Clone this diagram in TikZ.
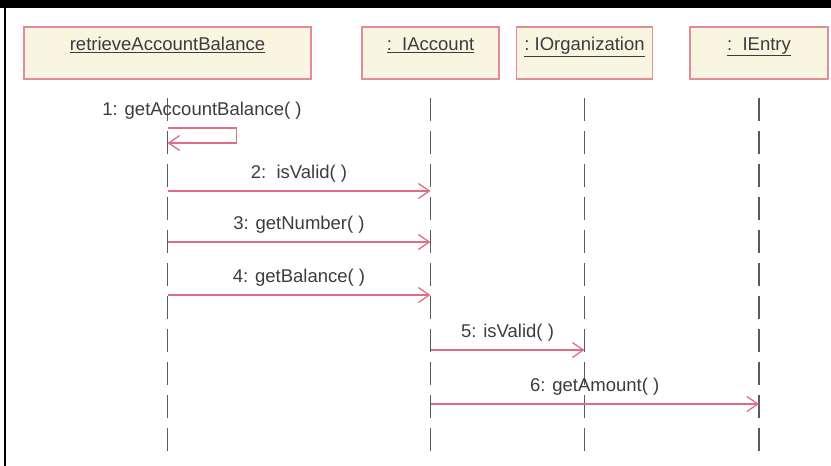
\documentclass[tikz,border=0pt]{standalone}
\usepackage{fontspec}
\setmainfont{Liberation Sans}
\usetikzlibrary{arrows.meta}

\definecolor{boxfill}{RGB}{248,245,224}
\definecolor{boxline}{RGB}{226,140,155}
\definecolor{msgline}{RGB}{222,110,135}
\definecolor{lifegray}{RGB}{90,90,90}
\definecolor{txtgray}{RGB}{60,60,60}

\begin{document}
\begin{tikzpicture}[x=1pt,y=-1pt,
	objbox/.style={draw=boxline,fill=boxfill,line width=1.5pt,minimum height=52pt,text depth=18pt,inner sep=0pt,font=\fontsize{18.5}{22}\selectfont,text=txtgray},
	lifeline/.style={draw=lifegray,line width=1.8pt,dash pattern=on 23pt off 10pt},
	msg/.style={draw=msgline,line width=1.3pt,-{Straight Barb[length=11pt,width=15pt]}},
	msglabel/.style={font=\fontsize{18.5}{22}\selectfont,text=txtgray,inner sep=0pt,above=8pt}]
		\useasboundingbox (0,0) rectangle (831,466);
		
		\fill[black] (0,0) rectangle (831,8);
		\draw[black,line width=2pt] (5,8) -- (5,466);
		
		\node[objbox,minimum width=287pt] (rab) at (167.5,53) {\underline{retrieveAccountBalance}};
		\node[objbox,minimum width=137pt] (acc) at (430.5,53) {\underline{:\ \ IAccount}};
		\node[objbox,minimum width=136pt] (org) at (584.5,53) {\underline{:\ IOrganization}};
		\node[objbox,minimum width=138pt] (ent) at (759,53) {\underline{:\ \ IEntry}};
		
		\coordinate (top) at (0,98);
		\coordinate (bot) at (0,452);
		\coordinate (m1a) at (0,128);
		\coordinate (m1b) at (0,143);
		\coordinate (m2) at (0,191);
		\coordinate (m3) at (0,242);
		\coordinate (m4) at (0,295);
		\coordinate (m5) at (0,350);
		\coordinate (m6) at (0,404);
		
		\draw[lifeline] (rab.south |- top) -- (rab.south |- bot);
		\draw[lifeline] (acc.south |- top) -- (acc.south |- bot);
		\draw[lifeline] (org.south |- top) -- (org.south |- bot);
		\draw[lifeline] (ent.south |- top) -- (ent.south |- bot);
		
		\draw[msg] (rab.south |- m1a) -- node[msglabel]{1: getAccountBalance( )} ++(69,0) -- ++(0,15) -- (rab.south |- m1b);
		\draw[msg] (rab.south |- m2) -- node[msglabel]{2:\ \ isValid( )} (acc.south |- m2);
		\draw[msg] (rab.south |- m3) -- node[msglabel]{3: getNumber( )} (acc.south |- m3);
		\draw[msg] (rab.south |- m4) -- node[msglabel]{4: getBalance( )} (acc.south |- m4);
		\draw[msg] (acc.south |- m5) -- node[msglabel]{5: isValid( )} (org.south |- m5);
		\draw[msg] (acc.south |- m6) -- node[msglabel]{6: getAmount( )} (ent.south |- m6);
	\end{tikzpicture}
\end{document}
